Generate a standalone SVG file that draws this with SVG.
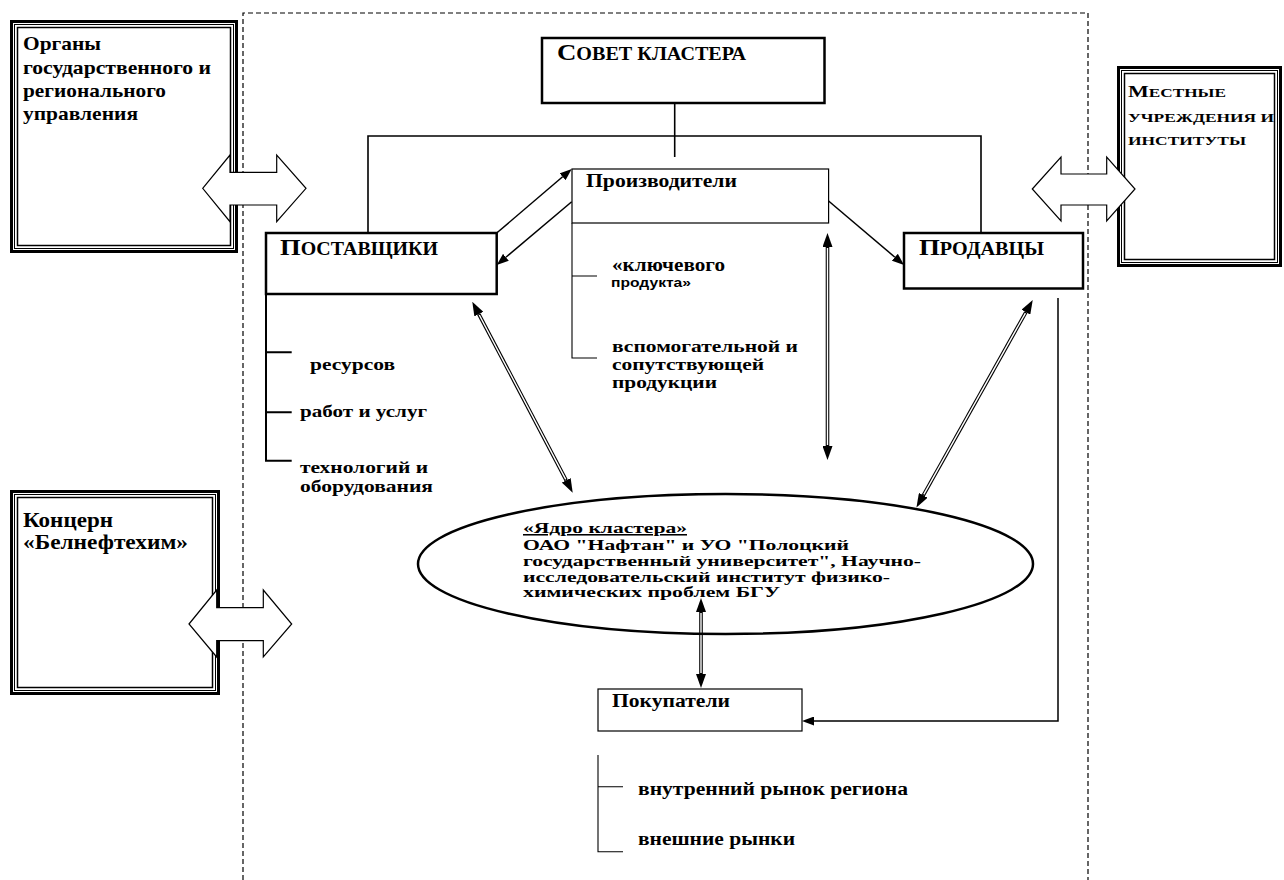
<svg xmlns="http://www.w3.org/2000/svg" width="1284" height="880" viewBox="0 0 1284 880">
<style>
.t{font-family:"Liberation Serif","Times New Roman",serif;font-weight:bold;fill:#000}
.s{font-family:"Liberation Sans",Arial,sans-serif;font-weight:bold;fill:#000}
.box{fill:#fff;stroke:#000}
.thick{stroke-width:2.5}
.thin{stroke-width:1.2}
.b1{fill:none;stroke:#000;stroke-width:3}
.b2{fill:none;stroke:#000;stroke-width:1}
.b3{fill:none;stroke:#000;stroke-width:1.5}
.ln{fill:none;stroke:#000}
.dbl{fill:none;stroke:#000;stroke-width:3.6}
.dblw{fill:none;stroke:#fff;stroke-width:1.4}
.blk{fill:#fff;stroke:#000;stroke-width:1.2}
.core{font-size:15.5px}
</style>
<defs>
<marker id="ah" viewBox="0 -5 14 10" refX="0" refY="0" markerWidth="14" markerHeight="10" markerUnits="userSpaceOnUse" orient="auto-start-reverse"><path d="M0,-5 L14,0 L0,5 z" fill="#000"/></marker>
<marker id="as" viewBox="0 -4.5 12 9" refX="0" refY="0" markerWidth="12" markerHeight="9" markerUnits="userSpaceOnUse" orient="auto-start-reverse"><path d="M0,-4.5 L12,0 L0,4.5 z" fill="#000"/></marker>
</defs>

<path id="frame" d="M243,880 V13 H1088 V880" fill="none" stroke="#000" stroke-width="1.2" stroke-dasharray="5,3"/>

<g id="organy">
<rect x="11.5" y="21.5" width="225" height="230" fill="#fff" class="b1"/>
<rect x="14.5" y="24.5" width="219" height="224" class="b2"/>
<rect x="17.5" y="27.5" width="213" height="218" class="b3"/>
<text class="t" x="23" y="50" font-size="19" textLength="78" lengthAdjust="spacingAndGlyphs">Органы</text>
<text class="t" x="23" y="74" font-size="19" textLength="188" lengthAdjust="spacingAndGlyphs">государственного и</text>
<text class="t" x="23" y="97" font-size="19" textLength="143" lengthAdjust="spacingAndGlyphs">регионального</text>
<text class="t" x="23" y="120" font-size="19" textLength="115" lengthAdjust="spacingAndGlyphs">управления</text>
</g>

<g id="mestnye">
<rect x="1118.5" y="67.5" width="162" height="198" fill="#fff" class="b1"/>
<rect x="1121.5" y="70.5" width="156" height="192" class="b2"/>
<rect x="1124.5" y="73.5" width="150" height="186" class="b3"/>
<text class="t" x="1128" y="97" textLength="98" lengthAdjust="spacingAndGlyphs"><tspan font-size="16">М</tspan><tspan font-size="12.5">ЕСТНЫЕ</tspan></text>
<text class="t" x="1128" y="122" font-size="12.5" textLength="146" lengthAdjust="spacingAndGlyphs">УЧРЕЖДЕНИЯ И</text>
<text class="t" x="1128" y="145" font-size="12.5" textLength="118" lengthAdjust="spacingAndGlyphs">ИНСТИТУТЫ</text>
</g>

<g id="koncern">
<rect x="11.5" y="491.5" width="207" height="202" fill="#fff" class="b1"/>
<rect x="14.5" y="494.5" width="201" height="196" class="b2"/>
<rect x="17.5" y="497.5" width="195" height="190" class="b3"/>
<text class="t" x="23" y="527" font-size="20" textLength="90" lengthAdjust="spacingAndGlyphs">Концерн</text>
<text class="t" x="23" y="549" font-size="20" textLength="165" lengthAdjust="spacingAndGlyphs">«Белнефтехим»</text>
</g>

<g id="arrows-block">
<polygon class="blk" points="202.7,188.3 230,155 230,172.3 276.7,172.3 276.7,155 306,188.3 276.7,221.7 276.7,205 230,205 230,221.7"/>
<polygon class="blk" points="1032.3,189 1061,157 1061,174 1106.7,174 1106.7,157 1135,189 1106.7,221 1106.7,205 1061,205 1061,221"/>
<polygon class="blk" points="189,624 216.7,590 216.7,607.7 263.3,607.7 263.3,590 291.7,624 263.3,657 263.3,640.7 216.7,640.7 216.7,657"/>
</g>

<g id="connectors">
<path class="ln" stroke-width="1.6" d="M674.7,103 V157"/>
<path class="ln" stroke-width="1.6" d="M368,233 V136 H981 V233"/>
<path class="ln" stroke-width="2" d="M266,294 V460.7 H291.7 M266,352.3 H291.7 M266,412.3 H291.7"/>
<path class="ln" stroke-width="1.1" d="M572,223 V358 H597 M572,276 H597"/>
<path class="ln" stroke-width="1.1" d="M598,755 V851.7 H623 M598,786.7 H623"/>
<path class="ln" stroke-width="1.5" d="M496.7,233 L562.6,176.8" marker-end="url(#as)"/>
<path class="ln" stroke-width="1.5" d="M571.7,201.7 L505.9,257.3" marker-end="url(#as)"/>
<path class="ln" stroke-width="1.5" d="M828.6,201 L894.9,257.2" marker-end="url(#as)"/>
<path class="ln" stroke-width="1.5" d="M1058,298 V721 H814" marker-end="url(#as)"/>
<path class="dbl" d="M478.8,314.1 L566.2,480.3" marker-start="url(#ah)" marker-end="url(#ah)"/>
<path class="dblw" d="M479.3,315 L565.7,479.4"/>
<path class="dbl" d="M827.5,247 V446" marker-start="url(#ah)" marker-end="url(#ah)"/>
<path class="dblw" d="M827.5,248 V445"/>
<path class="dbl" d="M1025.9,312.2 L923.3,495.3" marker-start="url(#ah)" marker-end="url(#ah)"/>
<path class="dblw" d="M1025.4,313.1 L923.8,494.4"/>
<path class="dbl" d="M701,612 V674" marker-start="url(#ah)" marker-end="url(#ah)"/>
<path class="dblw" d="M701,613 V673"/>
</g>

<g id="sovet">
<rect class="box thick" x="542" y="38" width="282.5" height="65"/>
<text class="t" x="557" y="60" textLength="189" lengthAdjust="spacingAndGlyphs"><tspan font-size="24">С</tspan><tspan font-size="18">ОВЕТ КЛАСТЕРА</tspan></text>
</g>

<g id="proizvoditeli">
<rect class="box thin" x="572" y="169" width="256.6" height="54"/>
<text class="t" x="586" y="187" font-size="19" textLength="151" lengthAdjust="spacingAndGlyphs">Производители</text>
<text class="t" x="612" y="271" font-size="18" textLength="113" lengthAdjust="spacingAndGlyphs">«ключевого</text>
<text class="s" x="611" y="287" font-size="13" textLength="80" lengthAdjust="spacingAndGlyphs">продукта»</text>
<text class="t" x="612" y="352" font-size="17" textLength="186" lengthAdjust="spacingAndGlyphs">вспомогательной и</text>
<text class="t" x="612" y="370" font-size="17" textLength="152" lengthAdjust="spacingAndGlyphs">сопутствующей</text>
<text class="t" x="612" y="388" font-size="17" textLength="105" lengthAdjust="spacingAndGlyphs">продукции</text>
</g>

<g id="postavshiki">
<rect class="box thick" x="266" y="233" width="230.7" height="61"/>
<text class="t" x="280" y="255" textLength="158" lengthAdjust="spacingAndGlyphs"><tspan font-size="24">П</tspan><tspan font-size="18">ОСТАВЩИКИ</tspan></text>
<text class="t" x="310" y="370" font-size="17" textLength="85" lengthAdjust="spacingAndGlyphs">ресурсов</text>
<text class="t" x="300" y="417" font-size="17" textLength="127" lengthAdjust="spacingAndGlyphs">работ и услуг</text>
<text class="t" x="300" y="473" font-size="17" textLength="128" lengthAdjust="spacingAndGlyphs">технологий и</text>
<text class="t" x="300" y="492" font-size="17" textLength="133" lengthAdjust="spacingAndGlyphs">оборудования</text>
</g>

<g id="prodavcy">
<rect class="box thick" x="904" y="233" width="179" height="55.5"/>
<text class="t" x="919" y="255" textLength="125" lengthAdjust="spacingAndGlyphs"><tspan font-size="24">П</tspan><tspan font-size="18">РОДАВЦЫ</tspan></text>
</g>

<g id="yadro">
<ellipse cx="725.5" cy="564" rx="307.5" ry="70" fill="none" stroke="#000" stroke-width="2.5"/>
<text class="t core" x="523" y="533" textLength="164" lengthAdjust="spacingAndGlyphs" text-decoration="underline">«Ядро кластера»</text>
<text class="t core" x="523" y="550" textLength="326" lengthAdjust="spacingAndGlyphs">ОАО "Нафтан" и УО "Полоцкий</text>
<text class="t core" x="523" y="566" textLength="398" lengthAdjust="spacingAndGlyphs">государственный университет", Научно-</text>
<text class="t core" x="523" y="581.5" textLength="367" lengthAdjust="spacingAndGlyphs">исследовательский институт физико-</text>
<text class="t core" x="523" y="597" textLength="257" lengthAdjust="spacingAndGlyphs">химических проблем БГУ</text>
</g>

<g id="pokupateli">
<rect class="box thin" x="598" y="689" width="204" height="42"/>
<text class="t" x="612" y="707" font-size="18" textLength="118" lengthAdjust="spacingAndGlyphs">Покупатели</text>
<text class="t" x="638" y="795" font-size="18" textLength="270" lengthAdjust="spacingAndGlyphs">внутренний рынок региона</text>
<text class="t" x="638" y="845" font-size="18" textLength="157" lengthAdjust="spacingAndGlyphs">внешние рынки</text>
</g>
</svg>
